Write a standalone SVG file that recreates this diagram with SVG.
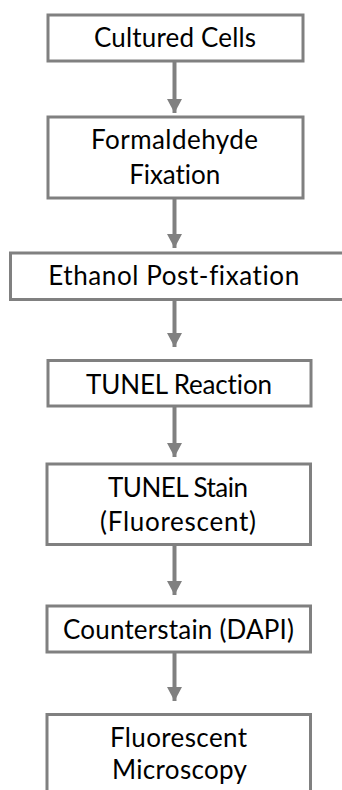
<svg xmlns="http://www.w3.org/2000/svg" width="342" height="790" viewBox="0 0 342 790">
<style>
.box{fill:#ffffff;stroke:#808080;stroke-width:3}
.lbl{font-family:Lato,"Liberation Sans",sans-serif;font-size:26px;fill:#000000;text-anchor:middle;font-variant-ligatures:none;font-feature-settings:"liga" 0,"dlig" 0}
.conn{stroke:#808080;stroke-width:4;fill:none}
</style>
<defs>
<marker id="ah" markerUnits="userSpaceOnUse" markerWidth="16" markerHeight="16" viewBox="0 0 16 16" refX="14" refY="8" orient="auto">
<path d="M0,0.5 L14,8 L0,15.5 Z" fill="#808080"/>
</marker>
</defs>
<rect width="342" height="790" fill="#ffffff"/>
<g id="connectors">
<line class="conn" x1="174.5" y1="62" x2="174.5" y2="113" marker-end="url(#ah)"/>
<line class="conn" x1="174.5" y1="199" x2="174.5" y2="248" marker-end="url(#ah)"/>
<line class="conn" x1="174.5" y1="301" x2="174.5" y2="347" marker-end="url(#ah)"/>
<line class="conn" x1="174.5" y1="407" x2="174.5" y2="457" marker-end="url(#ah)"/>
<line class="conn" x1="174.5" y1="546" x2="174.5" y2="595" marker-end="url(#ah)"/>
<line class="conn" x1="174.5" y1="653" x2="174.5" y2="701" marker-end="url(#ah)"/>
</g>
<g id="n1">
<rect class="box" x="48" y="15" width="255" height="46"/>
<text class="lbl" x="175" y="47" textLength="162">Cultured Cells</text>
</g>
<g id="n2">
<rect class="box" x="48" y="117" width="255" height="81"/>
<text class="lbl" x="174.5" y="148.5" textLength="167">Formaldehyde</text>
<text class="lbl" x="174.7" y="183.5" textLength="91">Fixation</text>
</g>
<g id="n3">
<rect class="box" x="10.5" y="253" width="340" height="46.5"/>
<text class="lbl" x="173.7" y="284.5" textLength="251">Ethanol Post-fixation</text>
</g>
<g id="n4">
<rect class="box" x="48" y="360.5" width="263" height="45.5"/>
<text class="lbl" x="179" y="393.5" textLength="186">TUNEL Reaction</text>
</g>
<g id="n5">
<rect class="box" x="47" y="464" width="263.5" height="80.5"/>
<text class="lbl" x="178" y="497" textLength="140">TUNEL Stain</text>
<text class="lbl" x="178" y="531" textLength="156">(Fluorescent)</text>
</g>
<g id="n6">
<rect class="box" x="47" y="606" width="263.5" height="46"/>
<text class="lbl" x="178.5" y="639" textLength="231">Counterstain (DAPI)</text>
</g>
<g id="n7">
<rect class="box" x="47" y="714.5" width="263.5" height="90"/>
<text class="lbl" x="178.5" y="747" textLength="137">Fluorescent</text>
<text class="lbl" x="179.5" y="779" textLength="135">Microscopy</text>
</g>
</svg>
